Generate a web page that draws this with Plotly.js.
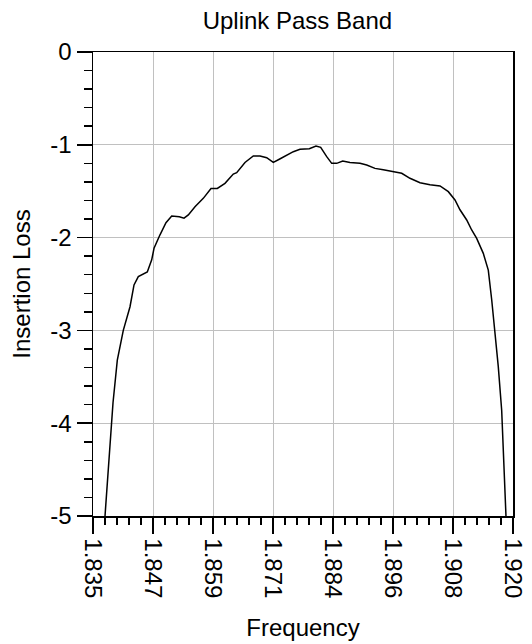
<!DOCTYPE html>
<html>
<head>
<meta charset="utf-8">
<script src="https://cdn.plot.ly/plotly-3.0.1.min.js"></script>
<style>html,body{margin:0;padding:0;background:#fff;}#chart{width:532px;height:644px;}</style>
</head>
<body>
<div id="chart"></div>
<script>
// Frequency (GHz)
const frequency = [
  1.83743, 1.83878, 1.83905, 1.83992, 1.84113, 1.84249, 1.84330, 1.84417, 1.84492, 1.84599,
  1.84688, 1.84735, 1.84856, 1.84977, 1.85093, 1.85247, 1.85342, 1.85429, 1.85564, 1.85732,
  1.85888, 1.86016, 1.86171, 1.86339, 1.86408, 1.86576, 1.86744, 1.86880, 1.87015, 1.87149,
  1.87270, 1.87420, 1.87554, 1.87689, 1.87878, 1.88013, 1.88108, 1.88230, 1.88331, 1.88432,
  1.88554, 1.88701, 1.88904, 1.89039, 1.89207, 1.89375, 1.89578, 1.89748, 1.89915, 1.90118,
  1.90320, 1.90523, 1.90691, 1.90826, 1.90927, 1.91063, 1.91164, 1.91265, 1.91399, 1.91500,
  1.91569, 1.91636, 1.91702, 1.91771, 1.91804, 1.91858
];
// Insertion loss (dB)
const insertionLoss = [
  -5.00, -4.00, -3.78, -3.32, -3.00, -2.745, -2.51, -2.42, -2.40, -2.37,
  -2.24, -2.115, -1.97, -1.84, -1.767, -1.775, -1.79, -1.756, -1.667, -1.577,
  -1.47, -1.47, -1.415, -1.315, -1.30, -1.19, -1.12, -1.12, -1.139, -1.19,
  -1.156, -1.117, -1.074, -1.049, -1.042, -1.013, -1.027, -1.128, -1.20, -1.20,
  -1.175, -1.19, -1.20, -1.218, -1.254, -1.27, -1.29, -1.307, -1.361, -1.408,
  -1.43, -1.444, -1.505, -1.595, -1.70, -1.81, -1.918, -2.008, -2.17, -2.35,
  -2.67, -3.03, -3.39, -3.86, -4.29, -5.00
];
// X tick positions and labels
const xTickVals = [1.835, 1.847143, 1.859286, 1.871429, 1.883571, 1.895714, 1.907857, 1.920];
const xTickText = ['1.835', '1.847', '1.859', '1.871', '1.884', '1.896', '1.908', '1.920'];
const yTickVals = [0, -1, -2, -3, -4, -5];
const yTickText = ['0', '-1', '-2', '-3', '-4', '-5'];

const FONT = '"Liberation Sans", Arial, sans-serif';

Plotly.newPlot('chart', [{
  x: frequency,
  y: insertionLoss,
  type: 'scatter',
  mode: 'lines',
  line: {color: '#000', width: 1.5},
  hoverinfo: 'skip'
}], {
  width: 532,
  height: 644,
  margin: {l: 93, r: 19, t: 52, b: 128},
  paper_bgcolor: '#fff',
  plot_bgcolor: '#fff',
  showlegend: false,
  font: {family: FONT, size: 24, color: '#000'},
  title: {
    text: 'Uplink Pass Band',
    font: {family: FONT, size: 24, color: '#000'},
    xref: 'container', x: 0.559, xanchor: 'center',
    yref: 'container', y: 0.968, yanchor: 'middle'
  },
  xaxis: {
    range: [1.835, 1.920],
    tickmode: 'array',
    tickvals: xTickVals,
    ticktext: xTickText,
    tickangle: 90,
    ticks: 'outside',
    ticklen: 16,
    tickwidth: 1.5,
    tickcolor: '#000',
    showline: true,
    linecolor: '#000',
    linewidth: 1.5,
    mirror: true,
    showgrid: true,
    gridcolor: '#c0c0c0',
    gridwidth: 1,
    zeroline: false,
    tickfont: {family: FONT, size: 24, color: '#000'},
    minor: {
      tickmode: 'linear', tick0: 1.835, dtick: 0.085 / 35,
      ticks: 'outside', ticklen: 7, tickwidth: 1.5, tickcolor: '#000', showgrid: false
    },
    title: {text: 'Frequency', font: {family: FONT, size: 24, color: '#000'}, standoff: 22}
  },
  yaxis: {
    range: [-5, 0],
    tickmode: 'array',
    tickvals: yTickVals,
    ticktext: yTickText,
    ticks: 'outside',
    ticklen: 15,
    tickwidth: 1.5,
    tickcolor: '#000',
    showline: true,
    linecolor: '#000',
    linewidth: 1.5,
    mirror: true,
    showgrid: true,
    gridcolor: '#c0c0c0',
    gridwidth: 1,
    zeroline: false,
    tickfont: {family: FONT, size: 24, color: '#000'},
    minor: {
      tickmode: 'linear', tick0: 0, dtick: 0.2,
      ticks: 'outside', ticklen: 8, tickwidth: 1.5, tickcolor: '#000', showgrid: false
    },
    title: {text: 'Insertion Loss', font: {family: FONT, size: 24, color: '#000'}, standoff: 13}
  }
}, {staticPlot: true, displayModeBar: false});
</script>
</body>
</html>
